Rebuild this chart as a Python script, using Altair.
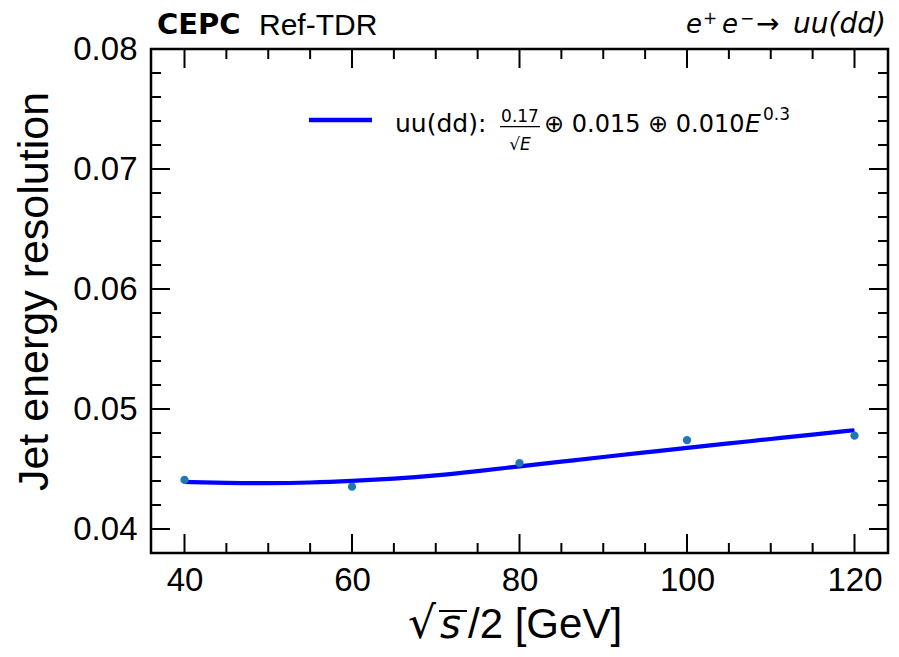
import altair as alt
import pandas as pd

# ---- data ----
energy = [40, 60, 80, 100, 120]
resolution = [0.04409, 0.04353, 0.04549, 0.04740, 0.04778]

fit_energy = [40, 45, 50, 55, 60, 65, 70, 75, 80, 85, 90, 95, 100, 105, 110, 115, 120]
fit_resolution = [0.04392, 0.04384, 0.04381, 0.04386, 0.04400, 0.04419, 0.04445,
                  0.04482, 0.04522, 0.04561, 0.04600, 0.04638, 0.04676, 0.04713,
                  0.04750, 0.04787, 0.04823]

x_major_ticks = [40, 60, 80, 100, 120]
x_minor_ticks = [45, 50, 55, 65, 70, 75, 85, 90, 95, 105, 110, 115]
y_major_ticks = [0.04, 0.05, 0.06, 0.07, 0.08]
y_minor_ticks = [0.042, 0.044, 0.046, 0.048, 0.052, 0.054, 0.056, 0.058,
                 0.062, 0.064, 0.066, 0.068, 0.072, 0.074, 0.076, 0.078]

y_title = "Jet energy resolution"
x_title_root = ["√"]
x_title_var = ["s"]
x_title_rest = ["/2 [GeV]"]
brand_bold = ["CEPC"]
brand_regular = ["Ref-TDR"]
proc_e = ["e"]
proc_plus = ["+"]
proc_minus = ["−"]
proc_arrow = ["→"]
proc_final = ["uu(dd)"]
legend_name = ["uu(dd):"]
legend_num = ["0.17"]
legend_den = ["√E"]
legend_rest = ["⊕ 0.015 ⊕ 0.010"]
legend_E = ["E"]
legend_exp = ["0.3"]

X_DOMAIN = [36, 124]
Y_DOMAIN = [0.038, 0.08]
W, H = 737, 504
MAJ, MIN = 19, 10

x_axis = alt.Axis(values=x_major_ticks, format="d", title=None, grid=False,
                  ticks=False, domain=False, labelFont="Liberation Sans",
                  labelFontSize=33, labelColor="black", labelPadding=11,
                  labelFlush=False)
y_axis = alt.Axis(values=y_major_ticks, format=".2f", title=y_title, grid=False,
                  ticks=False, domain=False, labelFont="Liberation Sans",
                  labelFontSize=33, labelColor="black", labelPadding=14,
                  labelFlush=False, titleFont="Liberation Sans", titleFontSize=43,
                  titleFontWeight="normal", titleColor="black", titleX=-104,
                  titleY=242, titleAngle=270, titleBaseline="alphabetic",
                  titleAlign="center")


def xenc():
    return alt.X("E:Q", scale=alt.Scale(domain=X_DOMAIN, nice=False, zero=False), axis=x_axis)


def yenc():
    return alt.Y("R:Q", scale=alt.Scale(domain=Y_DOMAIN, nice=False, zero=False), axis=y_axis)


pts_df = pd.DataFrame({"E": energy, "R": resolution})
fit_df = pd.DataFrame({"E": fit_energy, "R": fit_resolution})

fit_line = alt.Chart(fit_df).mark_line(color="#0000ff", strokeWidth=4.2,
                                       interpolate="basis").encode(x=xenc(), y=yenc())
points = alt.Chart(pts_df).mark_circle(size=68, color="#1f77b4", opacity=1).encode(x=xenc(), y=yenc())


def xticks(vals, length, top):
    df = pd.DataFrame({"E": vals})
    if top:
        return alt.Chart(df).mark_rule(color="black", strokeWidth=2).encode(
            x=xenc(), y=alt.value(0), y2=alt.value(length))
    return alt.Chart(df).mark_rule(color="black", strokeWidth=2).encode(
        x=xenc(), y=alt.value(H), y2=alt.value(H - length))


def yticks(vals, length, right):
    df = pd.DataFrame({"R": vals})
    if right:
        return alt.Chart(df).mark_rule(color="black", strokeWidth=2).encode(
            y=yenc(), x=alt.value(W), x2=alt.value(W - length))
    return alt.Chart(df).mark_rule(color="black", strokeWidth=2).encode(
        y=yenc(), x=alt.value(0), x2=alt.value(length))


tick_layers = [
    xticks(x_major_ticks, MAJ, False), xticks(x_major_ticks, MAJ, True),
    xticks(x_minor_ticks, MIN, False), xticks(x_minor_ticks, MIN, True),
    yticks(y_major_ticks, MAJ, False), yticks(y_major_ticks, MAJ, True),
    yticks(y_minor_ticks, MIN, False), yticks(y_minor_ticks, MIN, True),
]


def label(texts, x, y, size, font="DejaVu Sans", weight="normal", style="normal",
          align="left"):
    df = pd.DataFrame({"t": texts})
    return alt.Chart(df).mark_text(font=font, fontSize=size, fontWeight=weight,
                                   fontStyle=style, align=align, baseline="alphabetic",
                                   color="black").encode(
        x=alt.value(x), y=alt.value(y), text="t:N")


def hline(x1, x2, y, color, width):
    return alt.Chart(pd.DataFrame({"k": [0]})).mark_rule(
        color=color, strokeWidth=width).encode(
        x=alt.value(x1), x2=alt.value(x2), y=alt.value(y))


annotations = [
    # header
    label(brand_bold, 6, -15, 29, font="DejaVu Sans", weight="bold"),
    label(brand_regular, 108, -14, 30, font="Liberation Sans"),
    label(proc_e, 535, -16, 26, style="italic"),
    label(proc_plus, 552, -25, 17),
    label(proc_e, 571, -16, 26, style="italic"),
    label(proc_minus, 589, -25, 17),
    label(proc_arrow, 605, -16, 28),
    label(proc_final, 735, -16, 28, style="italic", align="right"),
    # legend
    label(legend_name, 244, 83, 25),
    label(legend_num, 369, 72.7, 17, align="center"),
    label(legend_den, 369, 101, 17, style="italic", align="center"),
    label(legend_rest, 393, 83, 24),
    label(legend_E, 594, 83, 25, style="italic"),
    label(legend_exp, 612, 71, 17),
    # x title
    label(x_title_root, 257, 589, 44),
    label(x_title_var, 289, 589, 40, style="italic"),
    label(x_title_rest, 317, 589, 42, font="Liberation Sans"),
]

lines = [
    hline(158, 221, 71, "#0000ff", 4.5),        # legend sample
    hline(349, 389, 77.7, "black", 1.2),        # fraction bar
    hline(288, 316, 562, "black", 2),           # overline of sqrt(s)
]

chart = alt.layer(
    fit_line, points, *tick_layers, *lines, *annotations
).properties(
    width=W, height=H,
    autosize=alt.AutoSizeParams(type="none"),
    padding={"left": 143, "top": 41, "right": 3, "bottom": 95},
    background="white",
).configure_view(stroke="black", strokeWidth=2.5)

chart.save("out.html", embed_options={"renderer": "svg", "actions": False})
